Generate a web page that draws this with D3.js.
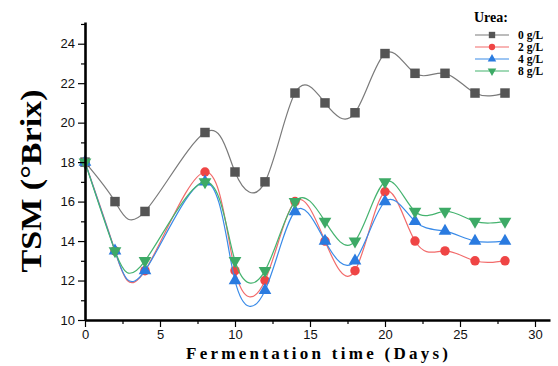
<!DOCTYPE html>
<html>
<head>
<meta charset="utf-8">
<script src="https://cdn.jsdelivr.net/npm/d3@7"></script>
<style>
  body { margin: 0; background: #fff; }
  svg { display: block; }
</style>
</head>
<body>
<div class="chart"></div>
<script>
var days = [0, 2, 4, 8, 10, 12, 14, 16, 18, 20, 22, 24, 26, 28];
var urea0 = [18, 16, 15.5, 19.5, 17.5, 17, 21.5, 21, 20.5, 23.5, 22.5, 22.5, 21.5, 21.5];
var urea2 = [18, 13.5, 12.5, 17.5, 12.5, 12, 16, 14, 12.5, 16.5, 14, 13.5, 13, 13];
var urea4 = [18, 13.5, 12.5, 17, 12, 11.5, 15.5, 14, 13, 16, 15, 14.5, 14, 14];
var urea8 = [18, 13.5, 13, 17, 13, 12.5, 16, 15, 14, 17, 15.5, 15.5, 15, 15];
var seriesNames = ["0 g/L", "2 g/L", "4 g/L", "8 g/L"];
var xTicks = [0, 5, 10, 15, 20, 25, 30];
var yTicks = [10, 12, 14, 16, 18, 20, 22, 24];

var width = 558, height = 366;
var margin = { top: 22, right: 8, bottom: 46, left: 85 };

var series = [
  { name: seriesNames[0], values: urea0, line: "#7a7a7a", fill: "#555555", shape: d3.symbolSquare, size: 90 },
  { name: seriesNames[1], values: urea2, line: "#f26b6b", fill: "#ef4545", shape: d3.symbolCircle, size: 70 },
  { name: seriesNames[2], values: urea4, line: "#3a8be8", fill: "#2a7be0", shape: d3.symbolTriangle, size: 70, rot: 0 },
  { name: seriesNames[3], values: urea8, line: "#45b36f", fill: "#3daa66", shape: d3.symbolTriangle, size: 70, rot: 180 }
];

var svg = d3.select(".chart")
  .append("svg")
  .attr("width", width)
  .attr("height", height);

var x = d3.scaleLinear().domain([0, 31]).range([margin.left, width - margin.right]);
var y = d3.scaleLinear().domain([10, 25.1]).range([height - margin.bottom, margin.top]);

var line = d3.line()
  .x(function (d) { return x(d[0]); })
  .y(function (d) { return y(d[1]); })
  .curve(d3.curveNatural);

// lines + markers per series
series.forEach(function (s) {
  var pts = days.map(function (d, i) { return [d, s.values[i]]; });
  svg.append("path")
    .attr("d", line(pts))
    .attr("fill", "none")
    .attr("stroke", s.line)
    .attr("stroke-width", 1.2);
  svg.selectAll(null)
    .data(pts)
    .enter()
    .append("path")
    .attr("d", d3.symbol().type(s.shape).size(s.size))
    .attr("transform", function (d) {
      return "translate(" + x(d[0]) + "," + y(d[1]) + ")" + (s.rot ? " rotate(" + s.rot + ")" : "");
    })
    .attr("fill", s.fill);
});

// axes
var xAxis = svg.append("g")
  .attr("transform", "translate(0," + (height - margin.bottom) + ")")
  .call(d3.axisBottom(x).tickValues(xTicks).tickSize(7).tickSizeOuter(0));
svg.append("g")
  .attr("transform", "translate(0," + (height - margin.bottom) + ")")
  .call(d3.axisBottom(x).tickValues(d3.range(2.5, 31, 5)).tickSize(4).tickFormat("").tickSizeOuter(0))
  .select(".domain").remove();

var yAxis = svg.append("g")
  .attr("transform", "translate(" + margin.left + ",0)")
  .call(d3.axisLeft(y).tickValues(yTicks).tickSize(7).tickSizeOuter(0));
svg.append("g")
  .attr("transform", "translate(" + margin.left + ",0)")
  .call(d3.axisLeft(y).tickValues(d3.range(11, 26, 2)).tickSize(4).tickFormat("").tickSizeOuter(0))
  .select(".domain").remove();

svg.selectAll(".tick line").attr("stroke", "#000").attr("stroke-width", 1.2);
svg.selectAll(".domain").attr("stroke", "#000").attr("stroke-width", 2.6);
svg.selectAll(".tick text")
  .style("font-family", "Liberation Sans, Arial, sans-serif")
  .style("font-size", "13px")
  .attr("fill", "#111");

// axis titles
svg.append("text")
  .attr("x", 317)
  .attr("y", 359)
  .attr("text-anchor", "middle")
  .attr("textLength", 262)
  .attr("lengthAdjust", "spacing")
  .style("font-family", "Liberation Serif, Times New Roman, serif")
  .style("font-weight", "bold")
  .style("font-size", "17px")
  .text("Fermentation time (Days)");

svg.append("text")
  .attr("transform", "translate(41,181) rotate(-90)")
  .attr("text-anchor", "middle")
  .attr("textLength", 183)
  .attr("lengthAdjust", "spacingAndGlyphs")
  .style("font-family", "Liberation Serif, Times New Roman, serif")
  .style("font-weight", "bold")
  .style("font-size", "30px")
  .text("TSM (°Brix)");

// legend
var legend = svg.append("g");
legend.append("text")
  .attr("x", 474)
  .attr("y", 22)
  .style("font-family", "Liberation Serif, Times New Roman, serif")
  .style("font-weight", "bold")
  .style("font-size", "14px")
  .text("Urea:");
series.forEach(function (s, i) {
  var ly = 35 + i * 12;
  legend.append("line")
    .attr("x1", 475).attr("x2", 509)
    .attr("y1", ly).attr("y2", ly)
    .attr("stroke", s.line)
    .attr("stroke-width", 1.2);
  legend.append("path")
    .attr("d", d3.symbol().type(s.shape).size(s.size * 0.45))
    .attr("transform", "translate(492," + ly + ")" + (s.rot ? " rotate(" + s.rot + ")" : ""))
    .attr("fill", s.fill);
  legend.append("text")
    .attr("x", 518)
    .attr("y", ly + 4)
    .style("font-family", "Liberation Serif, Times New Roman, serif")
    .style("font-weight", "bold")
    .style("font-size", "11.5px")
    .text(s.name);
});
</script>
</body>
</html>
